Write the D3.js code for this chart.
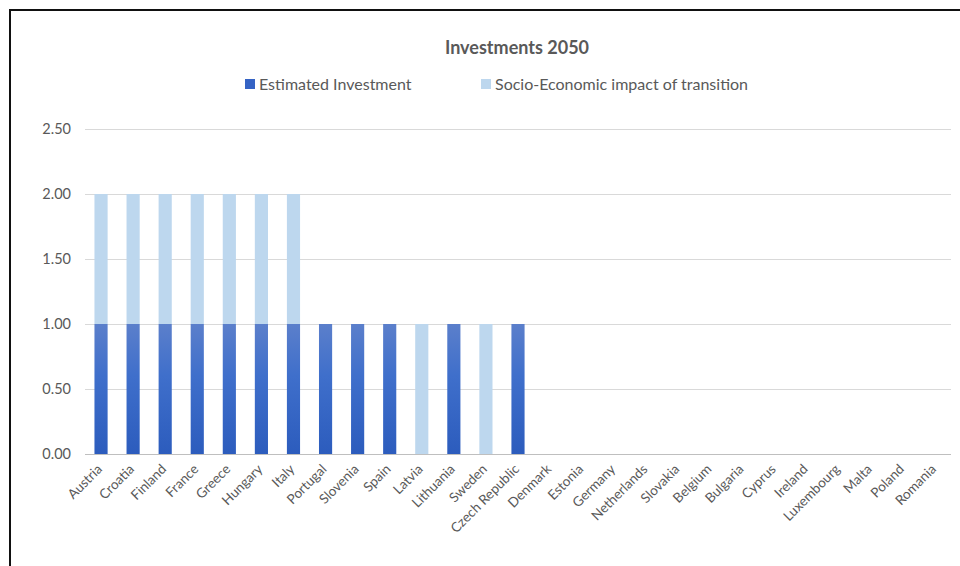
<!DOCTYPE html>
<html>
<head>
<meta charset="utf-8">
<script src="https://cdn.jsdelivr.net/npm/d3@7/dist/d3.min.js"></script>
<style>
  html, body { margin: 0; padding: 0; background: #fff; }
  svg { display: block; }
  text { font-family: Lato, "Open Sans", sans-serif; fill: #595959; }
</style>
</head>
<body>
<svg id="chart" width="960" height="566"></svg>
<script>
// Countries on the category axis
const countries = ["Austria", "Croatia", "Finland", "France", "Greece", "Hungary", "Italy",
  "Portugal", "Slovenia", "Spain", "Latvia", "Lithuania", "Sweden", "Czech Republic",
  "Denmark", "Estonia", "Germany", "Netherlands", "Slovakia", "Belgium", "Bulgaria",
  "Cyprus", "Ireland", "Luxembourg", "Malta", "Poland", "Romania"];

// Series values per country
const estimatedInvestment = [1, 1, 1, 1, 1, 1, 1, 1, 1, 1, 0, 1, 0, 1,
  0, 0, 0, 0, 0, 0, 0, 0, 0, 0, 0, 0, 0];
const socioEconomicImpact = [1, 1, 1, 1, 1, 1, 1, 0, 0, 0, 1, 0, 1, 0,
  0, 0, 0, 0, 0, 0, 0, 0, 0, 0, 0, 0, 0];

const seriesNames = ["Estimated Investment", "Socio-Economic impact of transition"];
const yTicks = [0, 0.5, 1, 1.5, 2, 2.5];

const svg = d3.select("#chart");

// gradient fill for the dark series
const defs = svg.append("defs");
const grad = defs.append("linearGradient")
  .attr("id", "estGrad").attr("x1", 0).attr("y1", 1).attr("x2", 0).attr("y2", 0);
grad.append("stop").attr("offset", "0%").attr("stop-color", "#2c5cbd");
grad.append("stop").attr("offset", "60%").attr("stop-color", "#3f6fcb");
grad.append("stop").attr("offset", "100%").attr("stop-color", "#5b7fcb");

// outer frame
svg.append("rect")
  .attr("x", 10).attr("y", 10).attr("width", 980).attr("height", 600)
  .attr("fill", "none").attr("stroke", "#111").attr("stroke-width", 2);

const plotLeft = 85, plotRight = 951, plotTop = 129, plotBottom = 454;

const x = d3.scaleBand()
  .domain(countries)
  .range([plotLeft, plotRight])
  .paddingInner(0.59)
  .paddingOuter(0.295);

const y = d3.scaleLinear().domain([0, 2.5]).range([plotBottom, plotTop]);

// horizontal gridlines and value labels
const yAxis = d3.axisLeft(y)
  .tickValues(yTicks)
  .tickSize(-(plotRight - plotLeft))
  .tickPadding(14)
  .tickFormat(d3.format(".2f"));

const gy = svg.append("g")
  .attr("transform", `translate(${plotLeft},0)`)
  .call(yAxis);
gy.select(".domain").remove();
gy.selectAll(".tick line").attr("stroke", "#d9d9d9").attr("stroke-width", 1);
gy.selectAll(".tick text")
  .style("font-size", "14.5px")
  .attr("fill", "#595959");

// stacked bars
const rows = countries.map((c, i) => ({
  country: c,
  est: estimatedInvestment[i],
  soc: socioEconomicImpact[i]
}));
const stack = d3.stack().keys(["est", "soc"]);
const layers = stack(rows);
const fills = ["url(#estGrad)", "#bdd7ee"];

svg.append("g").selectAll("g")
  .data(layers)
  .join("g")
  .attr("fill", (d, i) => fills[i])
  .selectAll("rect")
  .data(d => d.filter(p => p[1] - p[0] > 0))
  .join("rect")
  .attr("x", d => x(d.data.country))
  .attr("width", x.bandwidth())
  .attr("y", d => y(d[1]))
  .attr("height", d => y(d[0]) - y(d[1]));

// category axis
const gx = svg.append("g")
  .attr("transform", `translate(0,${plotBottom})`)
  .call(d3.axisBottom(x).tickSize(0));
gx.select(".domain")
  .attr("stroke", "#bfbfbf")
  .attr("d", `M${plotLeft},0.5H${plotRight}`);
gx.selectAll(".tick text")
  .style("font-size", "13.5px")
  .attr("fill", "#595959")
  .attr("text-anchor", "end")
  .attr("dy", "0")
  .attr("transform", "translate(2,16) rotate(-45)")
  .attr("y", 0)
  .attr("x", 0);

// title
svg.append("text")
  .attr("x", 517).attr("y", 54)
  .attr("text-anchor", "middle")
  .style("font-size", "18px")
  .style("font-weight", "bold")
  .text("Investments 2050");

// legend
const legendItems = [
  { name: seriesNames[0], color: "#3563c4", x: 245 },
  { name: seriesNames[1], color: "#bdd7ee", x: 481 }
];
const lg = svg.append("g");
legendItems.forEach(it => {
  lg.append("rect")
    .attr("x", it.x).attr("y", 79).attr("width", 10).attr("height", 10)
    .attr("fill", it.color);
  lg.append("text")
    .attr("x", it.x + 14).attr("y", 90)
    .style("font-size", "16px")
    .text(it.name);
});
</script>
</body>
</html>
